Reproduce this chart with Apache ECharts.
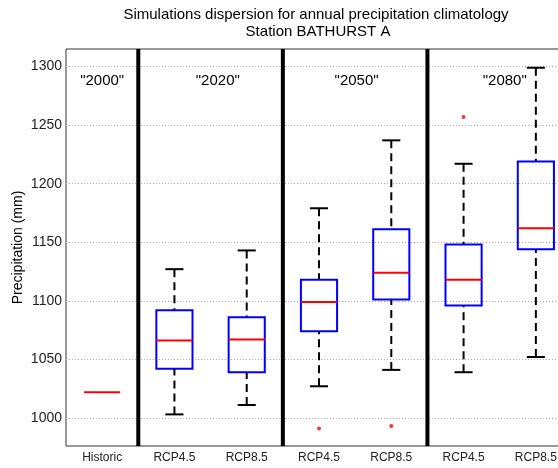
<!DOCTYPE html>
<html>
<head>
<meta charset="utf-8">
<script src="https://cdn.jsdelivr.net/npm/echarts@6/dist/echarts.min.js"></script>
<style>
  html, body { margin: 0; padding: 0; background: #fff; }
  #chart { width: 558px; height: 468px; }
</style>
</head>
<body>
<div id="chart"></div>
<script>
// Scenario categories along the x axis
const categories = ['Historic', 'RCP4.5', 'RCP8.5', 'RCP4.5', 'RCP8.5', 'RCP4.5', 'RCP8.5'];

// Box statistics per category (mm); the historic reference is a single value
const whiskerLow  = [null, 1003, 1011, 1027, 1041, 1039, 1052];
const quartile1   = [null, 1042, 1039, 1074, 1101, 1096, 1144];
const medians     = [1022, 1066, 1067, 1099, 1124, 1118, 1162];
const quartile3   = [null, 1092, 1086, 1118, 1161, 1148, 1219];
const whiskerHigh = [null, 1127, 1143, 1179, 1237, 1217, 1299];

// Outlying simulations: [category index, value]
const outliers = [[3, 991], [4, 993], [5, 1257]];

// Period labels and the category index after which each period divider sits
const periodLabels = ['"2000"', '"2020"', '"2050"', '"2080"'];
const periodDividers = [0, 2, 4];

// Y axis tick values
const yTicks = [1000, 1050, 1100, 1150, 1200, 1250, 1300];

const FONT = '"Liberation Sans", Arial, Helvetica, sans-serif';
// Horizontal placement of the period labels, in category units
const periodLabelPos = [0, 1.6, 3.52, 5.57];
const PERIOD_LABEL_Y = 1288;

const chart = echarts.init(document.getElementById('chart'), null, { renderer: 'canvas' });

const boxData = categories.map((c, i) => [i, whiskerLow[i], quartile1[i], medians[i], quartile3[i], whiskerHigh[i]]);

function renderBox(params, api) {
  const i = api.value(0);
  const lo = api.value(1), q1 = api.value(2), med = api.value(3), q3 = api.value(4), hi = api.value(5);
  const band = api.size([1, 0])[0];
  const cx = api.coord([i, med])[0];
  const half = band * 0.25;
  const capHalf = band * 0.125;
  const py = v => api.coord([i, v])[1];
  const children = [];
  const dashed = { stroke: '#000', lineWidth: 2, lineDash: [8, 5] };
  const solid = { stroke: '#000', lineWidth: 2 };
  if (isFinite(lo) && isFinite(hi)) {
    children.push(
      { type: 'line', shape: { x1: cx, y1: py(hi), x2: cx, y2: py(q3) }, style: dashed },
      { type: 'line', shape: { x1: cx, y1: py(lo), x2: cx, y2: py(q1) }, style: dashed },
      { type: 'line', shape: { x1: cx - capHalf, y1: py(hi), x2: cx + capHalf, y2: py(hi) }, style: solid },
      { type: 'line', shape: { x1: cx - capHalf, y1: py(lo), x2: cx + capHalf, y2: py(lo) }, style: solid },
      { type: 'rect', shape: { x: cx - half, y: py(q3), width: half * 2, height: py(q1) - py(q3) },
        style: { fill: 'none', stroke: '#0000ff', lineWidth: 2 } }
    );
  }
  children.push({ type: 'line', shape: { x1: cx - half, y1: py(med), x2: cx + half, y2: py(med) },
    style: { stroke: '#ff0000', lineWidth: 2 } });
  return { type: 'group', children };
}

function renderDivider(params, api) {
  const i = api.value(0);
  const band = api.size([1, 0])[0];
  const x = api.coord([i, 1000])[0] + band / 2;
  const cs = params.coordSys;
  return { type: 'line', shape: { x1: x, y1: cs.y, x2: x, y2: cs.y + cs.height },
    style: { stroke: '#000', lineWidth: 4 } };
}

function renderPeriodLabel(params, api) {
  const k = params.dataIndex;
  const pos = periodLabelPos[k];
  const i = Math.floor(pos);
  const band = api.size([1, 0])[0];
  const p = api.coord([i, PERIOD_LABEL_Y]);
  return { type: 'text', x: p[0] + (pos - i) * band, y: p[1],
    style: { text: periodLabels[k], align: 'center', verticalAlign: 'middle',
      fontSize: 15, fontFamily: FONT, fill: '#000' } };
}

chart.setOption({
  animation: false,
  backgroundColor: '#fff',
  grid: { left: 66, top: 49, right: -14, bottom: 22, show: true, borderColor: '#333', borderWidth: 1,
    outerBoundsMode: 'none', containLabel: false },
  graphic: [
    { type: 'text', x: 316, y: 15, style: { text: 'Simulations dispersion for annual precipitation climatology',
      align: 'center', verticalAlign: 'middle', fontSize: 15, fontFamily: FONT, fill: '#000' } },
    { type: 'text', x: 318, y: 32, style: { text: 'Station BATHURST A',
      align: 'center', verticalAlign: 'middle', fontSize: 15, fontFamily: FONT, fill: '#000' } }
  ],
  xAxis: {
    type: 'category',
    data: categories,
    boundaryGap: true,
    axisLine: { show: false },
    axisTick: { show: false },
    splitLine: { show: false },
    axisLabel: { fontSize: 12, fontFamily: FONT, color: '#222', margin: 6, interval: 0 }
  },
  yAxis: {
    type: 'value',
    min: 976,
    max: 1315,
    name: 'Precipitation (mm)',
    nameLocation: 'middle',
    nameGap: 41,
    nameMoveOverlap: false,
    nameTextStyle: { fontSize: 14, fontFamily: FONT, color: '#000' },
    axisLine: { show: false },
    axisTick: { show: false },
    splitLine: { show: false },
    axisLabel: { customValues: yTicks, formatter: v => String(v), fontSize: 14, fontFamily: FONT, color: '#222', margin: 4 }
  },
  series: [
    {
      type: 'scatter',
      data: outliers,
      symbol: 'circle',
      symbolSize: 4,
      itemStyle: { color: '#ff0000' },
      z: 5,
      markLine: {
        silent: true,
        symbol: 'none',
        label: { show: false },
        lineStyle: { color: '#aaa', type: [1, 2], width: 1 },
        data: yTicks.map(v => ({ yAxis: v })),
        z: 1
      }
    },
    {
      type: 'custom',
      data: periodDividers.map(i => [i]),
      encode: { x: 0 },
      renderItem: renderDivider,
      z: 3
    },
    {
      type: 'custom',
      data: boxData,
      dimensions: ['idx', 'low', 'q1', 'median', 'q3', 'high'],
      encode: { x: 0, y: [1, 2, 3, 4, 5] },
      renderItem: renderBox,
      z: 4
    },
    {
      type: 'custom',
      data: periodLabelPos.map(p => [Math.floor(p)]),
      encode: { x: 0 },
      renderItem: renderPeriodLabel,
      z: 6
    }
  ]
});
</script>
</body>
</html>
